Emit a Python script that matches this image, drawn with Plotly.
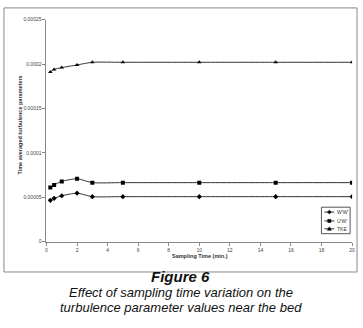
import plotly.graph_objects as go

time_min = [0.25, 0.5, 1, 2, 3, 5, 10, 15, 20]
ww = [4.65e-5, 4.87e-5, 5.16e-5, 5.45e-5, 5.06e-5, 5.06e-5, 5.06e-5, 5.06e-5, 5.06e-5]
uw = [6.08e-5, 6.38e-5, 6.78e-5, 7.08e-5, 6.64e-5, 6.64e-5, 6.64e-5, 6.64e-5, 6.64e-5]
tke = [1.91e-4, 1.94e-4, 1.96e-4, 1.99e-4, 2.02e-4, 2.02e-4, 2.02e-4, 2.02e-4, 2.02e-4]
series_names = ["W'W'", "U'W'", "TKE"]
y_ticks = [0, 0.00005, 0.0001, 0.00015, 0.0002, 0.00025]
y_ticktext = ["0", "0.00005", "0.0001", "0.00015", "0.0002", "0.00025"]
x_ticks = [0, 2, 4, 6, 8, 10, 12, 14, 16, 18, 20]

W, H = 363, 328


def px(x):
    return x / W


def py(y):
    return 1 - y / H


fig = go.Figure()
symbols = ["diamond", "square", "triangle-up"]
for name, vals, sym in zip(series_names, [ww, uw, tke], symbols):
    fig.add_trace(go.Scatter(
        x=time_min, y=vals, name=name, mode="lines+markers",
        line=dict(color="#333333", width=1, shape="spline", smoothing=0.6),
        marker=dict(symbol=sym, size=4, color="black"),
        showlegend=False,
    ))

font = "Liberation Sans, Arial, sans-serif"
fig.update_layout(
    width=W, height=H,
    margin=dict(l=0, r=0, t=0, b=0),
    paper_bgcolor="white", plot_bgcolor="white",
    font=dict(family=font, size=5, color="#333333"),
    xaxis=dict(domain=[px(46), px(355)], range=[0, 20], tickvals=x_ticks,
               showgrid=False, zeroline=False, showline=True, linecolor="#888888",
               linewidth=1, ticks="outside", ticklen=3, tickcolor="#888888",
               tickfont=dict(size=5, color="#444444")),
    yaxis=dict(domain=[py(243), py(17)], range=[0, 0.00025], tickvals=y_ticks,
               ticktext=y_ticktext,
               showgrid=False, zeroline=False, showline=True, linecolor="#888888",
               linewidth=1, ticks="outside", ticklen=3, tickcolor="#888888",
               tickfont=dict(size=5, color="#444444")),
    showlegend=False,
)

# axis titles
fig.add_annotation(xref="paper", yref="paper", x=px(201), y=py(263),
                   text="<b>Sampling Time (min.)</b>", showarrow=False,
                   font=dict(size=5.5, family=font, color="#333333"))
fig.add_annotation(xref="paper", yref="paper", x=px(14), y=py(124),
                   text="<b>Time averaged turbulence parameters</b>", showarrow=False,
                   textangle=-90, font=dict(size=5.5, family=font, color="#333333"))

# outer chart border
fig.add_shape(type="rect", xref="paper", yref="paper",
              x0=px(3), x1=px(360), y0=py(274), y1=py(5),
              line=dict(color="#888888", width=1))

# legend (drawn manually for compact Excel-like box)
fig.add_shape(type="rect", xref="paper", yref="paper",
              x0=px(324), x1=px(353), y0=py(235), y1=py(208),
              line=dict(color="#555555", width=1), fillcolor="white")
rows = [213, 222, 230]
for name, row, sym in zip(series_names, rows, symbols):
    fig.add_shape(type="line", xref="paper", yref="paper",
                  x0=px(327), x1=px(337), y0=py(row), y1=py(row),
                  line=dict(color="#333333", width=1))
    cx, cy = 332, row
    if sym == "diamond":
        path = f"M {px(cx-2)} {py(cy)} L {px(cx)} {py(cy-2)} L {px(cx+2)} {py(cy)} L {px(cx)} {py(cy+2)} Z"
    elif sym == "square":
        path = f"M {px(cx-1.6)} {py(cy-1.6)} L {px(cx+1.6)} {py(cy-1.6)} L {px(cx+1.6)} {py(cy+1.6)} L {px(cx-1.6)} {py(cy+1.6)} Z"
    else:
        path = f"M {px(cx-2)} {py(cy+1.6)} L {px(cx+2)} {py(cy+1.6)} L {px(cx)} {py(cy-2)} Z"
    fig.add_shape(type="path", xref="paper", yref="paper", path=path,
                  fillcolor="black", line=dict(color="black", width=0.5))
    fig.add_annotation(xref="paper", yref="paper", x=px(338), y=py(row),
                       xanchor="left", yanchor="middle", text=name, showarrow=False,
                       font=dict(size=5, family=font, color="#333333"))

# caption
fig.add_annotation(xref="paper", yref="paper", x=0.5, y=py(289), text="<b><i>Figure 6</i></b>",
                   showarrow=False, font=dict(size=15, family=font, color="#111111"))
fig.add_annotation(xref="paper", yref="paper", x=0.5, y=py(305),
                   text="<i>Effect of sampling time variation on the</i>",
                   showarrow=False, font=dict(size=13, family=font, color="#111111"))
fig.add_annotation(xref="paper", yref="paper", x=0.5, y=py(320),
                   text="<i>turbulence parameter values near the bed</i>",
                   showarrow=False, font=dict(size=13, family=font, color="#111111"))
fig.write_html("out.html",
               config={"displayModeBar": False},
               post_script="document.body.style.margin='0';document.body.style.overflow='hidden';")
